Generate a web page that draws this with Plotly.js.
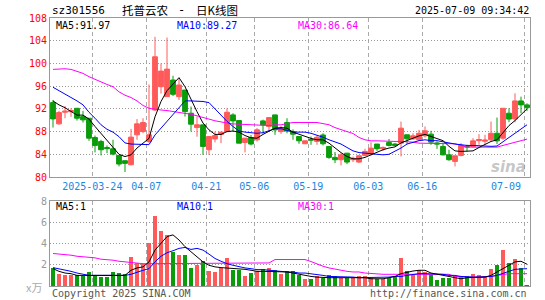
<!DOCTYPE html>
<html><head><meta charset="utf-8">
<script src="https://cdn.plot.ly/plotly-3.0.1.min.js"></script>
<style>html,body{margin:0;padding:0;background:#fff;}#chart{width:545px;height:300px;}</style>
</head><body><div id="chart"></div>
<script>
const dates = ['2025-03-13','2025-03-14','2025-03-17','2025-03-18','2025-03-19','2025-03-20','2025-03-21','2025-03-24','2025-03-25','2025-03-26',
'2025-03-27','2025-03-28','2025-03-31','2025-04-01','2025-04-02','2025-04-03','2025-04-07','2025-04-08','2025-04-09','2025-04-10',
'2025-04-11','2025-04-14','2025-04-15','2025-04-16','2025-04-17','2025-04-18','2025-04-21','2025-04-22','2025-04-23','2025-04-24',
'2025-04-25','2025-04-28','2025-04-29','2025-04-30','2025-05-06','2025-05-07','2025-05-08','2025-05-09','2025-05-12','2025-05-13',
'2025-05-14','2025-05-15','2025-05-16','2025-05-19','2025-05-20','2025-05-21','2025-05-22','2025-05-23','2025-05-26','2025-05-27',
'2025-05-28','2025-05-29','2025-05-30','2025-06-03','2025-06-04','2025-06-05','2025-06-06','2025-06-09','2025-06-10','2025-06-11',
'2025-06-12','2025-06-13','2025-06-16','2025-06-17','2025-06-18','2025-06-19','2025-06-20','2025-06-23','2025-06-24','2025-06-25',
'2025-06-26','2025-06-27','2025-06-30','2025-07-01','2025-07-02','2025-07-03','2025-07-04','2025-07-07','2025-07-08','2025-07-09'];

const openP = [93.1,89.36,91.4,91.5,92.1,90.64,90.35,86.96,86.26,85.2,
84.97,83.8,82.87,82.16,87.43,88.0,86.26,91.8,95.9,94.15,
97.08,94.15,95.32,91.23,88.7,89.18,84.8,86.7,87.5,88.0,
90.94,89.94,86.08,86.96,86.55,89.88,88.9,90.94,88.0,89.6,
88.0,87.13,85.85,86.6,86.26,87.4,85.38,83.45,83.04,84.2,
83.04,82.63,83.8,84.03,85.8,84.97,86.08,85.8,85.96,87.43,
86.72,86.55,87.25,87.54,86.0,85.38,83.9,82.75,83.8,85.4,
85.38,86.4,86.3,86.55,87.7,86.84,91.23,90.23,93.4,92.7];
const highP = [93.57,91.64,92.5,92.1,92.1,91.64,90.35,87.3,86.55,85.56,
86.55,83.8,82.87,88.48,90.2,90.35,96.3,104.68,100.0,104.56,
97.84,97.37,95.32,92.4,90.64,89.18,87.13,88.0,87.9,92.1,
91.23,89.94,86.84,87.4,88.6,90.1,90.47,90.94,89.0,90.35,
88.4,87.13,86.4,87.13,87.4,87.7,85.38,84.4,84.2,84.2,
83.6,83.74,84.97,86.14,85.8,85.38,86.7,86.0,89.77,87.43,
87.7,88.3,88.9,88.13,86.26,85.96,84.8,83.74,85.96,85.67,
86.84,87.54,87.43,89.77,90.47,92.1,92.1,94.74,94.15,92.98];
const lowP = [88.71,89.18,90.35,90.6,89.94,89.6,86.37,84.33,83.8,84.2,
83.8,81.87,80.88,82.05,86.55,87.7,85.96,91.64,94.7,94.15,
94.27,93.57,90.64,88.0,87.1,83.9,83.9,86.1,85.96,87.9,
88.0,85.96,84.33,85.56,86.26,87.7,88.0,87.43,87.6,87.7,
86.55,85.85,85.8,85.67,85.67,85.56,83.2,82.45,82.05,82.28,
82.63,82.45,83.63,83.8,84.6,84.6,85.38,85.4,83.63,85.8,
86.55,86.37,86.96,85.67,84.97,83.8,82.87,81.87,83.63,84.5,
85.2,85.67,85.67,86.37,85.8,86.55,89.65,89.65,91.23,91.64];
const closeP = [90.23,91.35,91.6,91.7,90.35,90.06,86.84,85.56,84.8,85.0,
84.03,82.28,82.4,87.02,89.36,89.6,87.43,101.17,98.65,99.0,
94.56,96.2,91.52,89.3,89.2,85.38,87.13,87.3,87.9,91.4,
89.88,85.96,86.84,85.8,88.3,89.18,90.47,88.3,88.6,88.1,
87.54,86.37,86.37,86.5,87.0,85.85,83.45,83.04,83.9,82.63,
83.3,83.74,84.5,85.08,84.97,85.2,85.56,85.56,88.6,86.72,
87.25,87.7,88.13,86.14,85.8,83.9,83.04,83.74,85.56,85.3,
86.37,86.6,86.5,87.7,86.37,92.1,90.2,93.4,92.7,92.2];

const ma5 = [93.4,92.7,92.2,91.6,90.9,90.9,90.2,88.9,87.7,86.5,85.1,84.0,83.6,83.9,85.1,
86.0,86.8,90.6,93.3,95.2,96.3,97.5,95.9,93.6,91.5,89.5,88.3,87.5,87.5,88.0,88.1,87.9,87.3,86.9,86.84,87.5,88.1,
88.6,88.7,88.6,87.9,87.5,87.1,86.8,86.55,86.55,85.96,85.1,84.3,83.6,83.2,83.2,83.45,83.9,84.4,84.8,85.1,85.3,
86.0,86.4,86.84,87.25,87.5,87.1,86.84,86.4,85.4,84.6,84.5,84.5,84.6,85.2,85.8,86.26,86.55,87.9,89.06,89.94,91.05,92.0];
const ma10 = [95.8,95.2,94.6,94.15,93.4,92.7,91.4,90.35,89.2,88.4,87.9,87.1,86.0,85.8,85.8,
85.7,85.7,87.4,88.6,89.8,91.0,92.2,93.4,93.4,93.4,93.3,93.1,92.0,90.9,89.8,88.9,88.1,87.9,87.8,87.7,87.8,88.1,
88.5,88.5,88.2,87.9,87.9,87.9,87.7,87.4,87.0,86.55,86.14,85.8,85.2,84.6,84.3,84.2,84.03,83.9,83.9,84.0,
84.5,85.1,85.8,86.1,86.4,86.55,86.4,86.4,86.26,86.0,85.8,85.67,85.56,85.56,85.5,85.4,85.4,85.45,86.14,86.96,87.7,88.5,89.2];
const ma30 = [98.95,99.06,99.06,98.95,98.65,98.25,97.66,97.19,96.67,96.3,95.9,95.0,94.4,94.0,93.4,
92.6,92.1,91.9,91.8,91.7,91.5,91.4,91.2,91.05,90.8,90.5,90.2,89.9,89.65,89.5,89.35,89.3,89.2,89.1,89.06,89.06,89.06,
89.18,89.18,89.4,89.6,89.6,89.6,89.6,89.6,89.4,89.2,88.7,88.3,88.0,87.66,86.96,86.55,86.37,86.37,86.3,86.26,86.26,
86.26,86.26,86.14,85.96,85.96,85.96,85.96,85.9,85.9,85.85,85.56,85.26,85.26,85.26,85.26,85.26,85.26,85.56,85.85,86.14,86.43,86.67];

const volume = [1.7,1.16,1.0,1.0,1.06,0.94,1.29,1.06,0.84,0.84,
1.32,1.22,1.1,2.75,2.17,2.1,4.08,6.62,5.22,4.81,
3.22,2.9,2.9,1.7,1.95,2.33,1.41,1.32,1.7,2.65,
1.48,1.48,0.9,1.22,1.38,1.57,1.7,1.48,1.1,1.38,
1.38,1.0,0.68,0.68,0.9,0.78,1.0,0.9,0.78,0.78,
0.78,0.9,0.9,0.78,0.68,0.68,0.78,0.9,2.62,1.38,
1.0,1.48,1.32,1.0,0.59,0.78,0.78,0.9,0.9,0.9,
1.16,1.0,0.84,1.57,1.95,3.38,2.17,2.52,1.73,0.14];
const vma5 = [1.63,1.38,1.22,1.16,1.0,1.0,1.0,1.0,1.0,1.0,1.0,1.0,1.0,1.48,1.7,1.8,2.27,3.38,4.0,4.65,
4.81,4.33,3.7,3.22,2.75,2.27,1.95,1.8,1.73,1.7,1.63,1.57,1.57,1.48,1.38,1.38,1.38,1.32,1.32,1.32,
1.22,1.1,1.0,0.9,0.84,0.78,0.78,0.78,0.78,0.78,0.78,0.78,0.78,0.68,0.68,0.68,0.78,0.9,1.16,1.32,
1.41,1.48,1.48,1.22,1.1,1.0,0.9,0.78,0.68,0.78,0.78,0.84,0.84,1.0,1.32,1.63,1.95,2.27,2.33,2.05];
const vma10 = [1.73,1.63,1.48,1.38,1.22,1.1,1.0,1.0,1.0,1.0,1.0,1.0,1.0,1.1,1.32,1.48,1.63,2.27,2.8,3.13,
3.32,3.54,3.63,3.44,3.54,3.38,3.0,2.59,2.33,2.1,1.95,1.8,1.7,1.63,1.54,1.54,1.48,1.48,1.41,1.32,
1.32,1.22,1.22,1.16,1.1,1.0,0.9,0.9,0.84,0.84,0.84,0.78,0.78,0.78,0.78,0.78,0.84,0.9,0.9,1.0,
1.1,1.16,1.16,1.16,1.16,1.1,1.0,1.0,0.9,0.84,0.84,0.84,0.84,0.9,1.0,1.16,1.38,1.57,1.63,1.63];
const vma30 = [3.06,3.0,3.0,2.9,2.8,2.75,2.68,2.65,2.52,2.49,2.43,2.33,2.27,2.2,2.17,2.1,2.1,2.1,2.1,2.1,
2.1,2.1,2.1,2.1,2.1,2.1,2.1,2.1,2.1,2.17,2.17,2.17,2.17,2.17,2.17,2.17,2.17,2.49,2.49,2.49,
2.49,2.49,2.49,2.3,2.05,1.86,1.7,1.57,1.48,1.38,1.32,1.32,1.22,1.16,1.16,1.1,1.1,1.1,1.1,1.1,
1.1,1.1,1.1,1.1,1.1,1.1,1.1,0.9,0.84,0.84,0.84,0.84,0.84,0.9,1.0,1.1,1.16,1.16,1.16,1.16];

const tickDates = ['2025-03-24','2025-04-07','2025-04-21','2025-05-06','2025-05-19','2025-06-03','2025-06-16','2025-07-09'];
const tickLabels = ['2025-03-24','04-07','04-21','05-06','05-19','06-03','06-16','07-09'];
const priceTicks = [80,84,88,92,96,100,104,108];
const volTicks = [2,4,6,8];

const RED = '#ff5a5a', GREEN = '#0a9c0a';
const xs = dates.map((d,i)=>i);
const tickvals = tickDates.map(d=>dates.indexOf(d)-0.45);
const nLab = tickLabels.length;
// the last date label sits right-aligned at its grid line (as in the original), drawn as an annotation
const ticktextShown = tickLabels.map((t,i)=> i===nLab-1 ? '' : t);
const volColors = xs.map(i => closeP[i] >= openP[i] ? RED : GREEN);
const mono = 'DejaVu Sans Mono, Liberation Mono, monospace';

const traces = [
 {type:'candlestick', x:xs, open:openP, high:highP, low:lowP, close:closeP, xaxis:'x', yaxis:'y',
  increasing:{line:{color:RED,width:1}, fillcolor:RED},
  decreasing:{line:{color:GREEN,width:1}, fillcolor:GREEN},
  whiskerwidth:0, hoverinfo:'skip'},
 {type:'scatter', mode:'lines', x:xs, y:ma30, line:{color:'#ff00ff',width:1}, xaxis:'x', yaxis:'y', hoverinfo:'skip'},
 {type:'scatter', mode:'lines', x:xs, y:ma10, line:{color:'#0000ff',width:1}, xaxis:'x', yaxis:'y', hoverinfo:'skip'},
 {type:'scatter', mode:'lines', x:xs, y:ma5, line:{color:'#000000',width:1}, xaxis:'x', yaxis:'y', hoverinfo:'skip'},
 {type:'bar', x:xs, y:volume, width:0.8, marker:{color:volColors, line:{width:0}}, xaxis:'x2', yaxis:'y2', hoverinfo:'skip'},
 {type:'scatter', mode:'lines', x:xs, y:vma30, line:{color:'#ff00ff',width:1}, xaxis:'x2', yaxis:'y2', hoverinfo:'skip'},
 {type:'scatter', mode:'lines', x:xs, y:vma10, line:{color:'#0000ff',width:1}, xaxis:'x2', yaxis:'y2', hoverinfo:'skip'},
 {type:'scatter', mode:'lines', x:xs, y:vma5, line:{color:'#000000',width:1}, xaxis:'x2', yaxis:'y2', hoverinfo:'skip'}
];

const frame = {showline:true, mirror:true, linecolor:'#999', linewidth:1, zeroline:false, fixedrange:true};
const xgrid = {showgrid:true, gridcolor:'#aaa', gridwidth:1, griddash:'4px,3px'};
const ygrid = {showgrid:true, gridcolor:'#999', gridwidth:1, griddash:'1px,2px'};
const yMainBottom = (286-177)/268;

function ann(text, x, y, color, size, xanchor, family){
  return {text:text, xref:'paper', yref:'paper', x:x, y:y, xanchor:xanchor||'left', yanchor:'middle',
    showarrow:false, font:{family:family||mono, size:size||10, color:color||'#000'}};
}
const px = v => (v-50)/480;
const py = v => (286-v)/268;
const cjk = 'Noto Sans CJK SC';

const layout = {
  width:545, height:300, margin:{l:50,r:15,t:18,b:14},
  paper_bgcolor:'#fff', plot_bgcolor:'#fff', showlegend:false,
  boxgap:0.2, boxgroupgap:0, bargap:0,
  xaxis:Object.assign({domain:[0,1], anchor:'y', range:[-0.5,79.5], tickmode:'array', tickvals:tickvals, ticktext:ticktextShown,
    ticks:'', tickfont:{family:mono,size:10,color:'#1c86e0'}, rangeslider:{visible:false}}, frame, xgrid),
  yaxis:Object.assign({domain:[yMainBottom,1], anchor:'x', range:[80,108], tickmode:'array', tickvals:priceTicks,
    ticks:'', tickfont:{family:mono,size:10,color:'#ff0000'}}, frame, ygrid),
  xaxis2:Object.assign({domain:[0,1], anchor:'y2', range:[-0.5,79.5], tickmode:'array', tickvals:tickvals,
    showticklabels:false, ticks:''}, frame, xgrid),
  yaxis2:Object.assign({domain:[0,(286-201)/268], anchor:'x2', range:[0,8], tickmode:'array', tickvals:volTicks,
    ticks:'', tickfont:{family:mono,size:10,color:'#999'}}, frame, ygrid),
  annotations:[
    {text:tickLabels[nLab-1], xref:'x', yref:'paper', x:tickvals[nLab-1], y:py(186.5), xanchor:'right', yanchor:'middle',
     xshift:-1, showarrow:false, font:{family:mono, size:10, color:'#1c86e0'}},
    ann('sz301556', px(50), py(10.5), '#000', 11, 'left'),
    ann('托普云农', px(120), py(10.5), '#000', 11.5, 'left', cjk),
    ann('-', px(181), py(10.5), '#000', 12, 'center', mono),
    ann('日K线图', px(194), py(10.5), '#000', 11.5, 'left', cjk),
    ann('2025-07-09 09:34:42', px(531), py(10.5), '#000', 10, 'right'),
    ann('MA5:91.97', px(54), py(25), '#000', 10, 'left'),
    ann('MA10:89.27', px(175), py(25), '#0000ff', 10, 'left'),
    ann('MA30:86.64', px(296), py(25), '#ff00ff', 10, 'left'),
    ann('MA5:1', px(54), py(206), '#000', 10, 'left'),
    ann('MA10:1', px(175), py(206), '#0000ff', 10, 'left'),
    ann('MA30:1', px(296), py(206), '#ff00ff', 10, 'left'),
    ann('x万', px(44), py(287), '#aaa', 11, 'right', cjk),
    ann('Copyright 2025 SINA.COM', px(50), py(293), '#555', 10, 'left'),
    ann('http://finance.sina.com.cn', px(529), py(293), '#555', 10, 'right'),
    {text:'<b><i>sina</i></b>', xref:'paper', yref:'paper', x:px(528), y:py(167), xanchor:'right', yanchor:'middle',
     showarrow:false, font:{family:'DejaVu Sans', size:15, color:'rgba(150,150,150,0.55)'}}
  ]
};

Plotly.newPlot('chart', traces, layout, {staticPlot:true, displayModeBar:false});
</script>
</body></html>
